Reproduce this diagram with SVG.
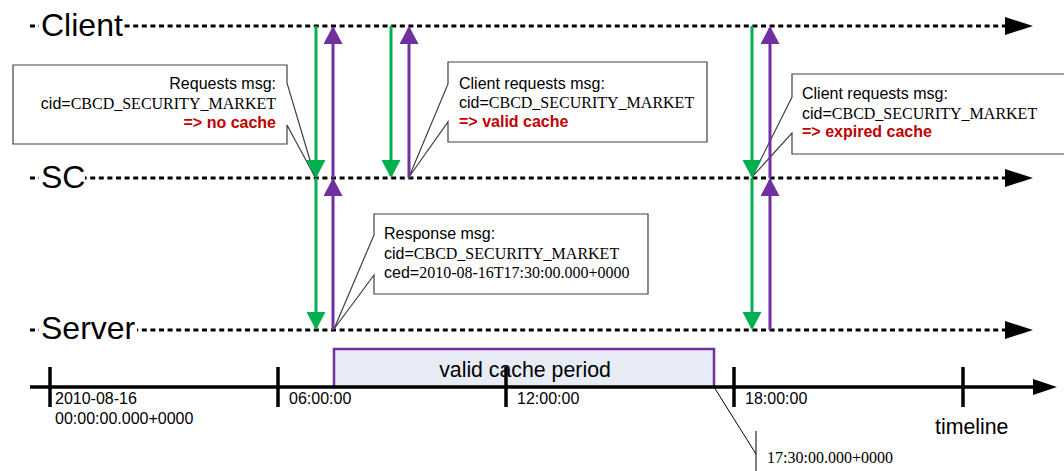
<svg xmlns="http://www.w3.org/2000/svg" width="1064" height="471" viewBox="0 0 1064 471">
<defs>
<style>
.life{stroke:#000;stroke-width:3;stroke-dasharray:5 3.6;fill:none}
.lname{font-family:"Liberation Sans",Arial,sans-serif;font-size:32px;fill:#000}
.callout{fill:#fff;stroke:#404040;stroke-width:1.2}
.t{font-family:"Liberation Sans",Arial,sans-serif;font-size:16px;fill:#000}
.serif{font-family:"Liberation Serif","Times New Roman",serif}
.red{font-weight:bold;fill:#C00000}
.g{stroke:#00B050;stroke-width:3;fill:none}
.p{stroke:#7030A0;stroke-width:3;fill:none}
.axis{stroke:#000;stroke-width:3.5;fill:none}
.thin{stroke:#000;stroke-width:1;fill:none}
</style>
<marker id="ag" markerUnits="userSpaceOnUse" markerWidth="19" markerHeight="19" refX="16" refY="9.5" orient="auto" viewBox="0 0 19 19"><path d="M0,0 L18,9.5 L0,19 Z" fill="#00B050"/></marker>
<marker id="ap" markerUnits="userSpaceOnUse" markerWidth="19" markerHeight="19" refX="16" refY="9.5" orient="auto" viewBox="0 0 19 19"><path d="M0,0 L18,9.5 L0,19 Z" fill="#7030A0"/></marker>
</defs>
<rect width="1064" height="471" fill="#fff"/>

<g id="lifelines">
<g id="client">
<line class="life" x1="30" y1="26" x2="1006" y2="26"/>
<polygon points="1005,17 1033,26 1005,35" fill="#000"/>
<rect x="39" y="6" width="85" height="36" fill="#fff"/>
<text class="lname" x="41" y="36">Client</text>
</g>
<g id="sc">
<line class="life" x1="30" y1="178" x2="1006" y2="178"/>
<polygon points="1005,169 1033,178 1005,187" fill="#000"/>
<rect x="39" y="158" width="46" height="36" fill="#fff"/>
<text class="lname" x="41" y="188">SC</text>
</g>
<g id="server">
<line class="life" x1="30" y1="330" x2="1006" y2="330"/>
<polygon points="1005,321 1033,330 1005,339" fill="#000"/>
<rect x="39" y="310" width="98" height="36" fill="#fff"/>
<text class="lname" x="41" y="339">Server</text>
</g>
</g>

<g id="callout-no-cache">
<path class="callout" d="M13,65 H287 V83 L315,177 L287,125 V144 H13 Z"/>
<text class="t" x="276" y="89" text-anchor="end">Requests msg:</text>
<text class="t" x="276" y="108.5" text-anchor="end">cid=<tspan class="serif">CBCD_SECURITY_MARKET</tspan></text>
<text class="t red" x="276" y="128" text-anchor="end">=&gt; no cache</text>
</g>
<g id="callout-valid-cache">
<path class="callout" d="M448,62 H707 V142 H448 V122 L409,177 L448,84 Z"/>
<text class="t" x="459" y="88.5">Client requests msg:</text>
<text class="t" x="459" y="107.5">cid=<tspan class="serif">CBCD_SECURITY_MARKET</tspan></text>
<text class="t red" x="459" y="126.5">=&gt; valid cache</text>
</g>
<g id="callout-expired-cache">
<path class="callout" d="M792,74 H1070 V154 H792 V133 L752,177 L792,97 Z"/>
<text class="t" x="802" y="98.5">Client requests msg:</text>
<text class="t" x="802" y="118.5">cid=<tspan class="serif">CBCD_SECURITY_MARKET</tspan></text>
<text class="t red" x="802" y="137">=&gt; expired cache</text>
</g>
<g id="callout-response">
<path class="callout" d="M374,214 H648 V294 H374 V275 L334,329 L374,235 Z"/>
<text class="t" x="384" y="238.5">Response msg:</text>
<text class="t" x="384" y="258.5">cid=<tspan class="serif">CBCD_SECURITY_MARKET</tspan></text>
<text class="t" x="384" y="277.5">ced=<tspan class="serif">2010-08-16T17:30:00.000+0000</tspan></text>
</g>

<g id="connectors">
<line class="g" x1="316" y1="26" x2="316" y2="176" marker-end="url(#ag)"/>
<line class="g" x1="316" y1="178" x2="316" y2="328" marker-end="url(#ag)"/>
<line class="p" x1="333" y1="178" x2="333" y2="28" marker-end="url(#ap)"/>
<line class="p" x1="333" y1="330" x2="333" y2="180" marker-end="url(#ap)"/>
<line class="g" x1="391" y1="26" x2="391" y2="176" marker-end="url(#ag)"/>
<line class="p" x1="409" y1="178" x2="409" y2="28" marker-end="url(#ap)"/>
<line class="g" x1="752" y1="26" x2="752" y2="176" marker-end="url(#ag)"/>
<line class="g" x1="752" y1="178" x2="752" y2="328" marker-end="url(#ag)"/>
<line class="p" x1="770" y1="178" x2="770" y2="28" marker-end="url(#ap)"/>
<line class="p" x1="770" y1="330" x2="770" y2="180" marker-end="url(#ap)"/>
</g>

<g id="timeline">
<path d="M334,387 V349 H714 V387" fill="#E7ECF6" stroke="#7030A0" stroke-width="2.5"/>
<text x="525" y="377" text-anchor="middle" font-family="'Liberation Sans',Arial,sans-serif" font-size="21.3" fill="#000">valid cache period</text>
<line class="axis" x1="30" y1="387" x2="1035" y2="387"/>
<polygon points="1033,379 1057,387 1033,395" fill="#000"/>
<line class="axis" x1="50" y1="367" x2="50" y2="407"/>
<line class="axis" x1="278" y1="367" x2="278" y2="407"/>
<line class="axis" x1="506" y1="367" x2="506" y2="407"/>
<line class="axis" x1="734" y1="367" x2="734" y2="407"/>
<line class="axis" x1="963" y1="367" x2="963" y2="407"/>
<text class="t" x="55" y="404">2010-08-16</text>
<text class="t" x="55" y="424">00:00:00.000+0000</text>
<text class="t" x="289" y="404">06:00:00</text>
<text class="t" x="517" y="404">12:00:00</text>
<text class="t" x="745" y="404">18:00:00</text>
<text x="935" y="434" font-family="'Liberation Sans',Arial,sans-serif" font-size="21.3" fill="#000">timeline</text>
<line class="thin" x1="714" y1="387" x2="756" y2="454"/>
<line class="thin" x1="756" y1="431" x2="756" y2="476"/>
<text class="t serif" x="767" y="463">17:30:00.000+0000</text>
</g>
</svg>
